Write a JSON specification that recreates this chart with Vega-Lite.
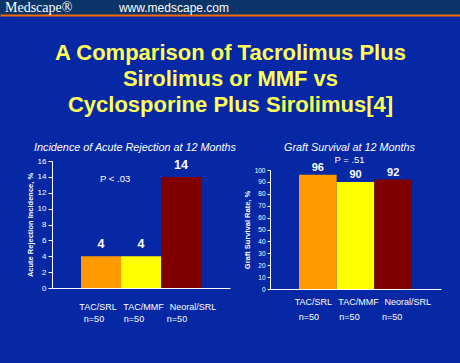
{
  "$schema": "https://vega.github.io/schema/vega-lite/v6.json",
  "background": "#0628a5",
  "padding": {"left": 0, "top": 0, "right": 0, "bottom": 42},
  "config": {
    "font": "Liberation Sans",
    "view": {"stroke": null},
    "axis": {"grid": false, "domainColor": "white", "tickColor": "white", "labelColor": "white", "titleColor": "white", "labelFont": "Liberation Sans", "titleFont": "Liberation Sans"}
  },
  "datasets": {
    "header": [
      {"item": "Medscape®", "kind": "logo"},
      {"item": "www.medscape.com", "kind": "url"}
    ],
    "rejection": [
      {"regimen": "TAC/SRL", "n": "n=50", "value": 4},
      {"regimen": "TAC/MMF", "n": "n=50", "value": 4},
      {"regimen": "Neoral/SRL", "n": "n=50", "value": 14}
    ],
    "survival": [
      {"regimen": "TAC/SRL", "n": "n=50", "value": 96},
      {"regimen": "TAC/MMF", "n": "n=50", "value": 90},
      {"regimen": "Neoral/SRL", "n": "n=50", "value": 92}
    ],
    "pleft": [{"regimen": "TAC/SRL", "label": "P  < .03", "value": 13.7}]
  },
  "spacing": 27,
  "vconcat": [
    {
      "width": 460,
      "height": 15,
      "view": {"fill": "#0b3468", "stroke": null},
      "data": {"name": "header"},
      "encoding": {
        "x": {"field": "item", "type": "nominal", "sort": null,
          "scale": {"type": "point", "padding": 0.5, "align": 0},
          "axis": {"title": null, "labels": false, "ticks": false, "domainColor": "#ff6a00", "domainWidth": 2}}
      },
      "layer": [
        {
          "transform": [{"filter": "datum.kind == 'logo'"}],
          "mark": {"type": "text", "align": "left", "baseline": "middle", "dx": 5, "font": "Liberation Serif", "fontSize": 14, "color": "white"},
          "encoding": {"text": {"field": "item"}}
        },
        {
          "transform": [{"filter": "datum.kind == 'url'"}],
          "mark": {"type": "text", "align": "right", "baseline": "middle", "dx": -1, "font": "Liberation Sans", "fontSize": 12, "color": "white"},
          "encoding": {"text": {"field": "item"}}
        }
      ]
    },
    {
      "title": {
        "text": ["A Comparison of Tacrolimus Plus", "Sirolimus or MMF vs", "Cyclosporine Plus Sirolimus[4]"],
        "anchor": "middle",
        "color": "#ffff55",
        "fontSize": 22,
        "fontWeight": "bold",
        "font": "Liberation Sans",
        "lineHeight": 26,
        "offset": 24,
        "dx": 10
      },
      "spacing": 6,
      "hconcat": [
        {
          "width": 20,
          "height": 1,
          "data": {"values": []},
          "mark": {"type": "point", "opacity": 0},
          "encoding": {}
        },
        {
          "spacing": 0,
          "vconcat": [
            {
              "width": 178,
              "height": 1,
              "data": {"values": []},
              "mark": {"type": "point", "opacity": 0},
              "encoding": {}
            },
            {
              "width": 178,
              "height": 127,
              "title": {"text": "Incidence of Acute Rejection at 12 Months", "fontStyle": "italic", "fontWeight": "normal", "fontSize": 10.8, "color": "white", "offset": 4, "dx": -6},
              "resolve": {"axis": {"x": "independent"}},
              "encoding": {
                "y": {"field": "value", "type": "quantitative", "scale": {"domain": [0, 16]},
                  "axis": {"title": "Acute Rejection Incidence, %", "values": [0, 2, 4, 6, 8, 10, 12, 14, 16], "labelOverlap": false, "labelFlush": false, "labelFontSize": 8, "titleFontSize": 7.5, "titleFontWeight": "bold", "tickSize": 4, "titlePadding": 3}}
              },
              "layer": [
                {
                  "data": {"name": "rejection"},
                  "mark": {"type": "bar"},
                  "encoding": {
                    "x": {"field": "regimen", "type": "nominal", "sort": null, "scale": {"paddingInner": 0, "paddingOuter": 0.725},
                      "axis": {"orient": "bottom", "title": null, "labelAngle": 0, "ticks": false, "labelFontSize": 9, "labelPadding": 14,
                        "labelOffset": {"condition": [{"test": "datum.value == 'Neoral/SRL'", "value": 12}, {"test": "datum.value == 'TAC/MMF'", "value": 2.5}], "value": -3}}},
                    "color": {"field": "regimen", "type": "nominal", "sort": null, "scale": {"range": ["#ff9900", "#ffff00", "#800000"]}, "legend": null}
                  }
                },
                {
                  "data": {"name": "rejection"},
                  "mark": {"type": "text", "baseline": "bottom", "dy": -5, "fontSize": 12.5, "fontWeight": "bold", "color": "white"},
                  "encoding": {
                    "x": {"field": "regimen", "type": "nominal", "sort": null,
                      "axis": {"orient": "bottom", "title": null, "labelAngle": 0, "ticks": false, "domain": false, "labelFontSize": 9, "labelPadding": 26, "labelExpr": "'n=50'",
                        "labelOffset": {"condition": [{"test": "datum.value == 'Neoral/SRL'", "value": -4}], "value": -7}}},
                    "text": {"field": "value"}
                  }
                },
                {
                  "data": {"name": "pleft"},
                  "mark": {"type": "text", "align": "left", "baseline": "middle", "fontSize": 9.5, "color": "white", "dx": -1},
                  "encoding": {
                    "x": {"field": "regimen", "type": "nominal", "sort": null, "axis": null},
                    "text": {"field": "label"}
                  }
                }
              ]
            }
          ]
        },
        {
          "spacing": 0,
          "vconcat": [
            {
              "width": 171,
              "height": 1,
              "data": {"values": []},
              "mark": {"type": "point", "opacity": 0},
              "encoding": {}
            },
            {
              "width": 171,
              "height": 119,
              "title": {"text": "Graft Survival at 12 Months", "subtitle": "P  = .51", "fontStyle": "italic", "fontWeight": "normal", "fontSize": 10.8, "color": "white", "subtitleColor": "white", "subtitleFontSize": 9.5, "subtitlePadding": 2, "offset": -3, "dx": -6},
              "resolve": {"axis": {"x": "independent"}},
              "encoding": {
                "y": {"field": "value", "type": "quantitative", "scale": {"domain": [0, 100]},
                  "axis": {"title": "Graft Survival Rate, %", "values": [0, 10, 20, 30, 40, 50, 60, 70, 80, 90, 100], "labelOverlap": false, "labelFlush": false, "labelFontSize": 6.5, "titleFontSize": 7.5, "titleFontWeight": "bold", "tickSize": 3, "titlePadding": 3}}
              },
              "layer": [
                {
                  "data": {"name": "survival"},
                  "mark": {"type": "bar"},
                  "encoding": {
                    "x": {"field": "regimen", "type": "nominal", "sort": null, "scale": {"paddingInner": 0, "paddingOuter": 0.77},
                      "axis": {"orient": "bottom", "title": null, "labelAngle": 0, "ticks": false, "labelFontSize": 9, "labelPadding": 8,
                        "labelOffset": {"condition": [{"test": "datum.value == 'Neoral/SRL'", "value": 14.5}, {"test": "datum.value == 'TAC/MMF'", "value": 3}], "value": -4.5}}},
                    "color": {"field": "regimen", "type": "nominal", "sort": null, "scale": {"range": ["#ff9900", "#ffff00", "#800000"]}, "legend": null}
                  }
                },
                {
                  "data": {"name": "survival"},
                  "mark": {"type": "text", "baseline": "bottom", "dy": -2, "fontSize": 11, "fontWeight": "bold", "color": "white"},
                  "encoding": {
                    "x": {"field": "regimen", "type": "nominal", "sort": null,
                      "axis": {"orient": "bottom", "title": null, "labelAngle": 0, "ticks": false, "domain": false, "labelFontSize": 9, "labelPadding": 23, "labelExpr": "'n=50'",
                        "labelOffset": {"condition": [{"test": "datum.value == 'Neoral/SRL'", "value": -1}, {"test": "datum.value == 'TAC/MMF'", "value": -6}], "value": -9}}},
                    "text": {"field": "value"}
                  }
                }
              ]
            }
          ]
        }
      ]
    }
  ]
}
